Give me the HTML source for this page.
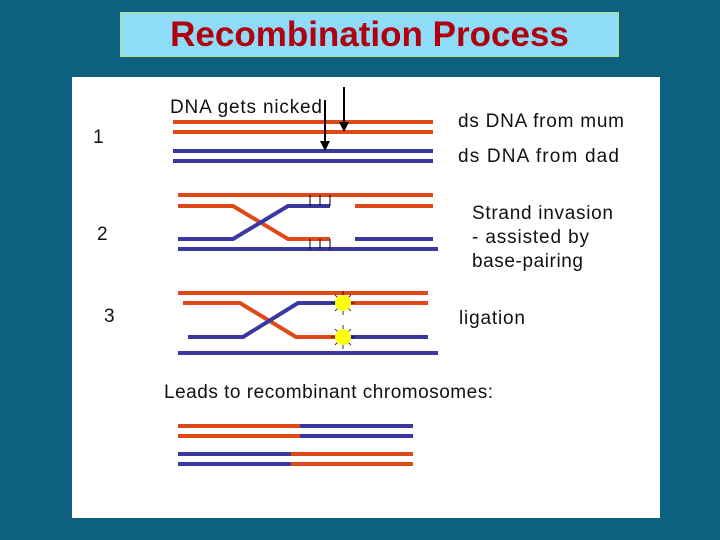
<!DOCTYPE html>
<html><head><meta charset="utf-8"><style>
body{margin:0;width:720px;height:540px;background:#0d6080;position:relative;overflow:hidden;font-family:"Liberation Sans",sans-serif}
#tb{position:absolute;left:120px;top:12px;width:497px;height:43px;background:#8fdcf8;border:1px solid #b8e080;color:#b00010;font-weight:bold;font-size:35px;text-align:center;line-height:44px}
#wp{position:absolute;left:72px;top:77px;width:588px;height:441px;background:#fff}
svg{position:absolute;left:0;top:0}
</style></head><body>
<div id="tb">Recombination Process</div>
<div id="wp"></div>
<svg width="720" height="540" font-family="Liberation Sans, sans-serif" font-size="19" fill="#111">
<g stroke-width="4" fill="none">
<line x1="173" y1="122" x2="433" y2="122" stroke="#e04818"/>
<line x1="173" y1="132" x2="433" y2="132" stroke="#e04818"/>
<line x1="173" y1="151" x2="433" y2="151" stroke="#3838a0"/>
<line x1="173" y1="161" x2="433" y2="161" stroke="#3838a0"/>

<line x1="178" y1="195" x2="433" y2="195" stroke="#e04818"/>
<polyline points="178,206 233,206 288,239 330,239" stroke="#e04818"/>
<polyline points="178,239 233,239 288,206 330,206" stroke="#3838a0"/>
<line x1="355" y1="206" x2="433" y2="206" stroke="#e04818"/>
<line x1="355" y1="239" x2="433" y2="239" stroke="#3838a0"/>
<line x1="178" y1="249" x2="438" y2="249" stroke="#3838a0"/>

<line x1="178" y1="293" x2="428" y2="293" stroke="#e04818"/>
<polyline points="183,303 240,303 296,337 343,337" stroke="#e04818"/>
<polyline points="188,337 243,337 298,303 343,303" stroke="#3838a0"/>
<line x1="343" y1="303" x2="428" y2="303" stroke="#e04818"/>
<line x1="343" y1="337" x2="428" y2="337" stroke="#3838a0"/>
<line x1="178" y1="353" x2="438" y2="353" stroke="#3838a0"/>

<line x1="178" y1="426" x2="300" y2="426" stroke="#e04818"/>
<line x1="300" y1="426" x2="413" y2="426" stroke="#3838a0"/>
<line x1="178" y1="436" x2="300" y2="436" stroke="#e04818"/>
<line x1="300" y1="436" x2="413" y2="436" stroke="#3838a0"/>
<line x1="178" y1="454" x2="291" y2="454" stroke="#3838a0"/>
<line x1="291" y1="454" x2="413" y2="454" stroke="#e04818"/>
<line x1="178" y1="464" x2="291" y2="464" stroke="#3838a0"/>
<line x1="291" y1="464" x2="413" y2="464" stroke="#e04818"/>
</g>
<g stroke="#000" stroke-width="1">
<line x1="310" y1="195" x2="310" y2="206"/><line x1="320" y1="195" x2="320" y2="206"/><line x1="330" y1="195" x2="330" y2="206"/>
<line x1="310" y1="239" x2="310" y2="249"/><line x1="320" y1="239" x2="320" y2="249"/><line x1="330" y1="239" x2="330" y2="249"/>
</g>
<g stroke="#000" stroke-width="2">
<line x1="344" y1="87" x2="344" y2="124"/>
<line x1="325" y1="100" x2="325" y2="143"/>
</g>
<polygon points="339,122 349,122 344,132" fill="#000"/>
<polygon points="320,141 330,141 325,151" fill="#000"/>
<g stroke="#000" stroke-width="0.8">
<line x1="331" y1="303" x2="355" y2="303"/><line x1="343" y1="291" x2="343" y2="315"/><line x1="335" y1="295" x2="351" y2="311"/><line x1="351" y1="295" x2="335" y2="311"/>
<line x1="331" y1="337" x2="355" y2="337"/><line x1="343" y1="325" x2="343" y2="349"/><line x1="335" y1="329" x2="351" y2="345"/><line x1="351" y1="329" x2="335" y2="345"/>
</g>
<circle cx="343" cy="303" r="8" fill="#ffff10"/>
<circle cx="343" cy="337" r="8" fill="#ffff10"/>
<text x="170" y="113" textLength="152">DNA gets nicked</text>
<text x="93" y="143">1</text>
<text x="458" y="127" textLength="166">ds DNA from mum</text>
<text x="458" y="162" textLength="161">ds DNA from dad</text>
<text x="472" y="219" textLength="141">Strand invasion</text>
<text x="472" y="243" textLength="117">- assisted by</text>
<text x="472" y="267" textLength="111">base-pairing</text>
<text x="97" y="240">2</text>
<text x="104" y="322">3</text>
<text x="459" y="324" textLength="66">ligation</text>
<text x="164" y="398" textLength="329">Leads to recombinant chromosomes:</text>
</svg>
</body></html>
